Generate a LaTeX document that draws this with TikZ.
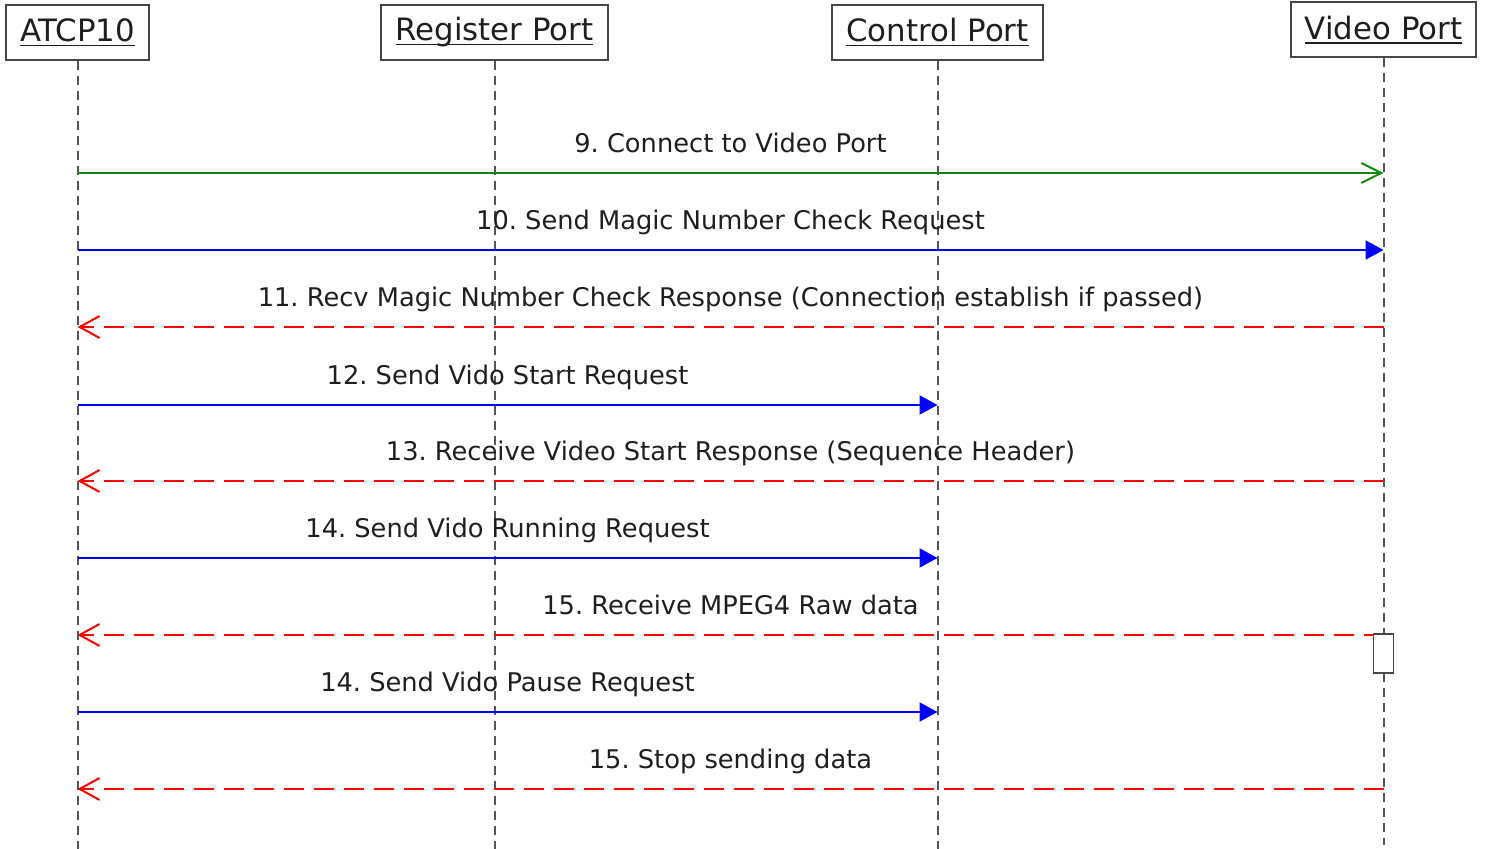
\documentclass[tikz,border=0pt]{standalone}
\usepackage{fontspec}
\setmainfont{DejaVu Sans}
\usetikzlibrary{arrows.meta}
\frenchspacing

% underlined participant title, rule sitting just below the baseline
\newcommand{\ulhead}[1]{\setbox0=\hbox{#1}\rlap{\rule[-2.2pt]{\wd0}{0.7pt}}\box0}

\definecolor{txt}{RGB}{30,30,30}
\definecolor{frame}{RGB}{70,70,70}
\definecolor{lifegray}{RGB}{85,85,85}
\definecolor{msggreen}{RGB}{20,135,20}

\tikzset{
  head/.style={draw=frame, line width=1pt, fill=white, text=txt,
    inner xsep=7.2pt, inner ysep=0pt, minimum height=27.5pt,
    font=\fontsize{15.4}{18}\selectfont},
  life/.style={draw=lifegray, line width=1pt, dash pattern=on 4.5pt off 3pt},
  msglabel/.style={text=txt, font=\fontsize{12.85}{15}\selectfont, anchor=base, inner sep=0pt},
  call/.style={draw=blue, line width=1pt, -{Triangle[length=9pt,width=9.5pt]}},
  connect/.style={draw=msggreen, line width=1pt, -{Straight Barb[length=10pt,width=10pt,line width=1pt]}},
  reply/.style={draw=red, line width=1pt, dash pattern=on 10pt off 5pt,
    -{Straight Barb[length=10pt,width=11pt,line width=1pt]}},
  activation/.style={draw=frame, line width=0.9pt, fill=white, minimum width=10pt,
    minimum height=19.5pt, inner sep=0pt},
}

\begin{document}
\begin{tikzpicture}[x=0.5pt, y=-0.5pt]
  \useasboundingbox (0,0) rectangle (1485,849);

  % participants
  \node[head] (atcp) at (77.5,32.5) {\ulhead{ATCP10}};
  \node[head] (reg)  at (494.5,32.5) {\ulhead{Register Port}};
  \node[head] (ctrl) at (937.5,32.5) {\ulhead{Control Port}};
  \node[head] (vid)  at (1383.5,30) {\ulhead{Video Port}};

  % lifeline ends
  \coordinate (atcp-end) at (atcp.south |- 0,849);
  \coordinate (reg-end)  at (reg.south |- 0,849);
  \coordinate (ctrl-end) at (ctrl.south |- 0,849);
  \coordinate (vid-end)  at (vid.south |- 0,845);

  \draw[life] (atcp.south) -- (atcp-end);
  \draw[life] (reg.south) -- (reg-end);
  \draw[life] (ctrl.south) -- (ctrl-end);
  \draw[life] (vid.south) -- (vid-end);

  % message rows
  \coordinate (m9)  at (0,173);
  \coordinate (m10) at (0,250);
  \coordinate (m11) at (0,327);
  \coordinate (m12) at (0,405);
  \coordinate (m13) at (0,481);
  \coordinate (m14) at (0,558);
  \coordinate (m15) at (0,635);
  \coordinate (m16) at (0,712);
  \coordinate (m17) at (0,789);

  \draw[connect] (atcp |- m9) -- node[msglabel, yshift=10pt] {9. Connect to Video Port} (vid |- m9);
  \draw[call] (atcp |- m10) -- node[msglabel, yshift=10pt] {10. Send Magic Number Check Request} (vid |- m10);
  \draw[reply] (vid |- m11) -- node[msglabel, yshift=10pt] {11. Recv Magic Number Check Response (Connection establish if passed)} (atcp |- m11);
  \draw[call] (atcp |- m12) -- node[msglabel, yshift=10pt] {12. Send Vido Start Request} (ctrl |- m12);
  \draw[reply] (vid |- m13) -- node[msglabel, yshift=10pt] {13. Receive Video Start Response (Sequence Header)} (atcp |- m13);
  \draw[call] (atcp |- m14) -- node[msglabel, yshift=10pt] {14. Send Vido Running Request} (ctrl |- m14);
  \draw[reply] (vid |- m15) -- node[msglabel, yshift=10pt] {15. Receive MPEG4 Raw data} (atcp |- m15);
  \draw[call] (atcp |- m16) -- node[msglabel, yshift=10pt] {14. Send Vido Pause Request} (ctrl |- m16);
  \draw[reply] (vid |- m17) -- node[msglabel, yshift=10pt] {15. Stop sending data} (atcp |- m17);

  % activation bar on the video port
  \node[activation, anchor=north] (act) at (vid |- 0,633) {};
\end{tikzpicture}
\end{document}
